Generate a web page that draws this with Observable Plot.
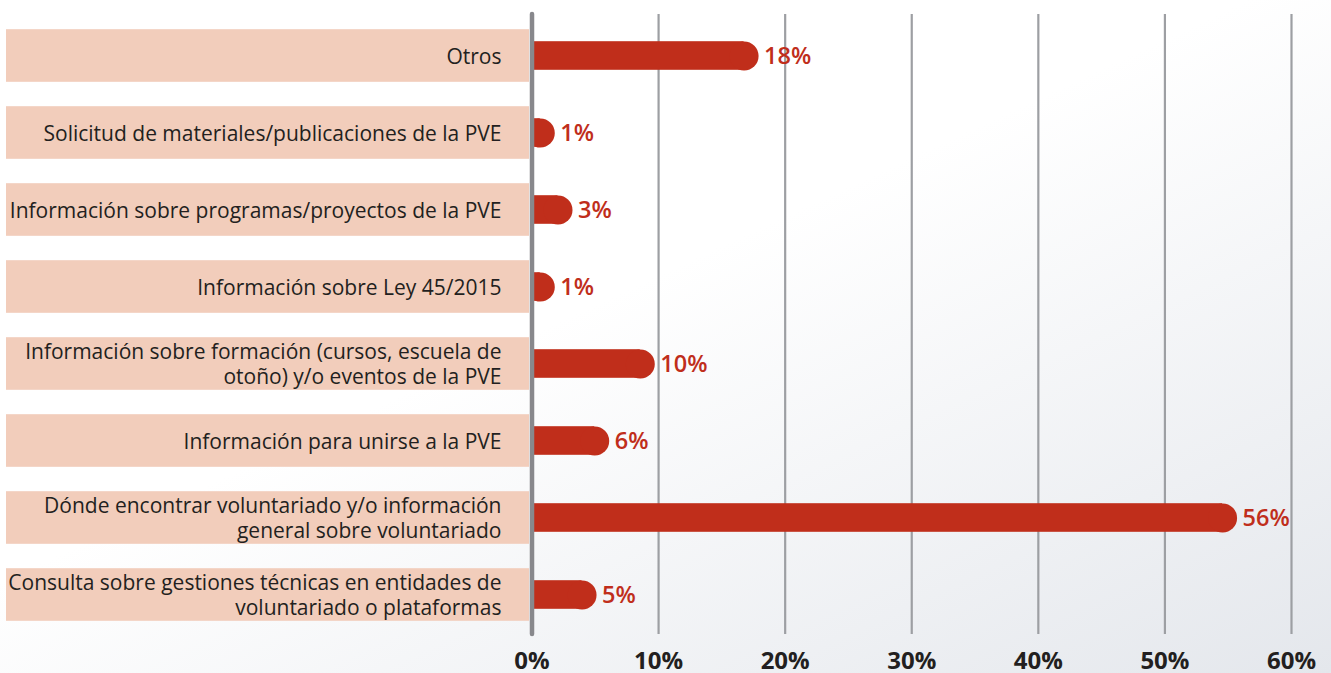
<!DOCTYPE html>
<html><head><meta charset="utf-8">
<script src="https://cdn.jsdelivr.net/npm/d3@7"></script>
<script src="https://cdn.jsdelivr.net/npm/@observablehq/plot@0.6"></script>
<style>
html,body{margin:0;padding:0;}
body{width:1331px;height:673px;overflow:hidden;background:linear-gradient(155deg,#ffffff 0%,#ffffff 45%,#e4e7ec 100%);}
</style></head><body><div id="chart"></div>
<script>
const categories = [
  "Otros",
  "Solicitud de materiales/publicaciones de la PVE",
  "Información sobre programas/proyectos de la PVE",
  "Información sobre Ley 45/2015",
  "Información sobre formación (cursos, escuela de\notoño) y/o eventos de la PVE",
  "Información para unirse a la PVE",
  "Dónde encontrar voluntariado y/o información\ngeneral sobre voluntariado",
  "Consulta sobre gestiones técnicas en entidades de\nvoluntariado o plataformas"
];
const values = [17.9, 1.8, 3.2, 1.8, 9.7, 6.1, 55.7, 5.1];
const valueLabels = ["18%", "1%", "3%", "1%", "10%", "6%", "56%", "5%"];
const ticks = [0, 10, 20, 30, 40, 50, 60];
const gridTicks = [10, 20, 30, 40, 50, 60];

const data = categories.map((c, i) => ({category: c, value: values[i], label: valueLabels[i]}));
const red = "#c02e1b";

const chart = Plot.plot({
  width: 1331,
  height: 673,
  marginLeft: 531.5,
  marginRight: 40,
  marginTop: 14,
  marginBottom: 39,
  style: {background: "transparent", fontFamily: "'Open Sans', sans-serif", fontSize: "24px", fontWeight: "bold", color: "#231f20", overflow: "visible"},
  x: {domain: [0, 60], ticks: ticks, tickFormat: d => d + "%", tickSize: 0, tickPadding: 17, label: null},
  y: {domain: categories, range: [15.8, 634.7], padding: 0, axis: null},
  marks: [
    Plot.barX(data, {x1: 0, x2: 0, y: "category", fill: "#f2cdbb", insetLeft: -525.5, insetRight: 2.5, insetTop: 12.2, insetBottom: 12.2}),
    Plot.ruleX(gridTicks, {stroke: "#9d9fa3", strokeWidth: 2.2}),
    Plot.barX(data, {x1: 0, x2: "value", y: "category", fill: red, insetTop: 24.2, insetBottom: 24.2, insetRight: 14.5}),
    Plot.dot(data, {x: "value", y: "category", r: 14.5, dx: -14.5, fill: red, stroke: null, clip: true}),
    Plot.ruleX([0], {stroke: "#88888c", strokeWidth: 4.5, strokeLinecap: "round"}),
    Plot.text(data, {x: 0, y: "category", text: "category", textAnchor: "end", dx: -30.5, dy: -0.5, fontSize: 21, fontWeight: 400, fill: "#231f20", lineHeight: 1.2}),
    Plot.text(data, {x: "value", y: "category", text: "label", textAnchor: "start", dx: 5.5, fontSize: 23.5, fontWeight: 600, fill: red})
  ]
});
document.getElementById("chart").appendChild(chart);
</script>
</body></html>
